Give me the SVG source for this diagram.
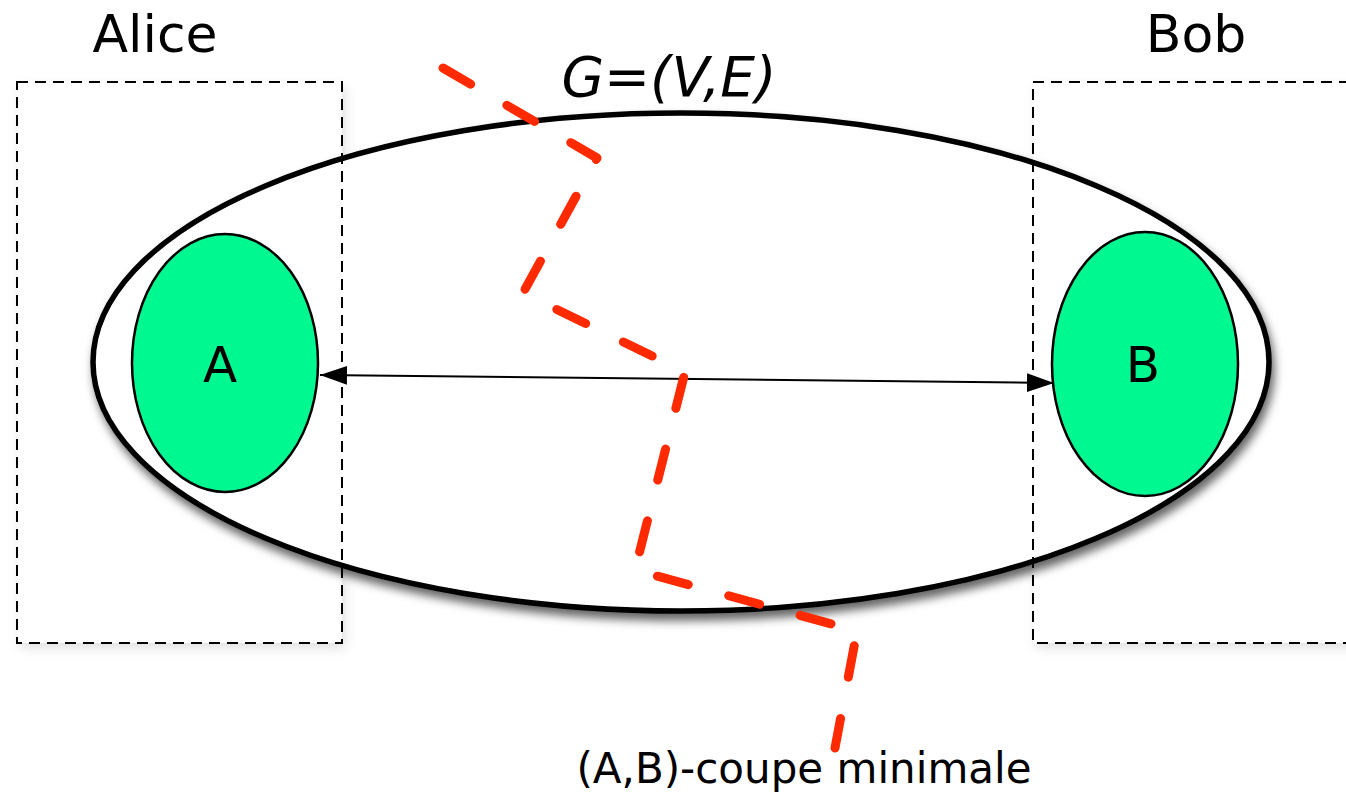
<svg xmlns="http://www.w3.org/2000/svg" width="1346" height="795" viewBox="0 0 1346 795">
<style>
.lbl{font-family:"DejaVu Sans","Liberation Sans",sans-serif;fill:#000}
.boxbg{fill:#fff;stroke:none}
.box{fill:none;stroke:#000;stroke-width:2;stroke-dasharray:11 7}
.set{fill:#00f891;stroke:#000;stroke-width:2.5}
.cut{fill:none;stroke:#ff2a00;stroke-width:9;stroke-linecap:round;stroke-linejoin:round;stroke-dasharray:32 42}
</style>
<defs>
<filter id="sh" x="-10%" y="-10%" width="130%" height="130%">
<feDropShadow dx="3" dy="7" stdDeviation="5" flood-color="#000" flood-opacity="0.6"/>
</filter>
<filter id="shl" x="-10%" y="-10%" width="130%" height="130%">
<feDropShadow dx="3" dy="5" stdDeviation="6" flood-color="#000" flood-opacity="0.12"/>
</filter>
<marker id="ah" viewBox="0 0 10 10" refX="10" refY="5" markerWidth="27" markerHeight="27" markerUnits="userSpaceOnUse" orient="auto-start-reverse">
<path d="M0,1.5 L10,5 L0,8.5 Z" fill="#000"/>
</marker>
</defs>
<rect width="1346" height="795" fill="#fff"/>
<g id="alice-bg"><rect class="boxbg" x="17" y="82" width="325" height="561" filter="url(#shl)"/></g>
<g id="bob-bg"><rect class="boxbg" x="1033" y="82" width="330" height="561" filter="url(#shl)"/></g>
<g id="graph">
<ellipse cx="681" cy="362" rx="588" ry="249" fill="#fff" stroke="#000" stroke-width="5.5" filter="url(#sh)"/>
<text class="lbl" x="669" y="96" font-size="55" font-style="italic" text-anchor="middle">G=(V,E)</text>
</g>
<g id="alice">
<rect class="box" x="17" y="82" width="325" height="561"/>
<text class="lbl" x="155" y="52" font-size="52" text-anchor="middle">Alice</text>
</g>
<g id="bob">
<rect class="box" x="1033" y="82" width="330" height="561"/>
<text class="lbl" x="1196" y="52" font-size="52" text-anchor="middle">Bob</text>
</g>
<g id="A">
<ellipse class="set" cx="225" cy="363" rx="93" ry="129"/>
<text class="lbl" x="220" y="382" font-size="50" text-anchor="middle">A</text>
</g>
<g id="B">
<ellipse class="set" cx="1145" cy="364" rx="93" ry="132"/>
<text class="lbl" x="1143" y="382" font-size="50" text-anchor="middle">B</text>
</g>
<g id="connectors">
<line x1="320" y1="375" x2="1054" y2="383" stroke="#000" stroke-width="2" marker-start="url(#ah)" marker-end="url(#ah)"/>
</g>
<g id="cut">
<polyline class="cut" points="443,68 597,158 523,293 685,372 635,570 857,631 835,748"/>
<text class="lbl" x="804" y="783" font-size="42" text-anchor="middle">(A,B)-coupe minimale</text>
</g>
</svg>
